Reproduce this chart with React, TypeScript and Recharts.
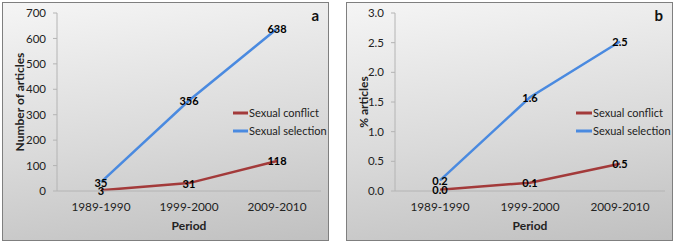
import React from 'react';
import { LineChart, Line, XAxis, YAxis, Legend, LabelList } from 'recharts';

const periods = ['1989-1990', '1999-2000', '2009-2010'];
const conflictCount = [3, 31, 118];
const selectionCount = [35, 356, 638];
const conflictPct = [0.02, 0.14, 0.46];
const selectionPct = [0.18, 1.58, 2.52];
const countTicks = [0, 100, 200, 300, 400, 500, 600, 700];
const pctTicks = [0, 0.5, 1.0, 1.5, 2.0, 2.5, 3.0];

const FONT = 'Lato, "Open Sans", sans-serif';
const RED = '#a33a3a';
const BLUE = '#4a8ae0';
const AXIS = '#b4b4b4';

const countData = periods.map((p, i) => ({ period: p, conflict: conflictCount[i], selection: selectionCount[i] }));
const pctData = periods.map((p, i) => ({ period: p, conflict: conflictPct[i], selection: selectionPct[i] }));

const makeLabel = (fmt: (v: number) => string) => (props: any) => {
  const { x, y, value } = props;
  return (
    <text x={x} y={y} textAnchor="middle" dominantBaseline="central" fontFamily={FONT} fontSize={11} fontWeight="bold" fill="#000">
      {fmt(value)}
    </text>
  );
};

const legendContent = (lineLen: number) => (props: any) => {
  const items = props.payload || [];
  return (
    <div style={{ fontFamily: FONT, fontSize: 11, color: '#222' }}>
      {items.map((it: any) => (
        <div key={it.value} style={{ display: 'flex', alignItems: 'center', height: 17.7 }}>
          <svg width={lineLen} height={4} style={{ display: 'block' }}>
            <line x1={0} y1={2} x2={lineLen} y2={2} stroke={it.color} strokeWidth={3} />
          </svg>
          <span style={{ marginLeft: 1, whiteSpace: 'nowrap' }}>{it.value}</span>
        </div>
      ))}
    </div>
  );
};

type PanelProps = {
  left: number;
  data: any[];
  ticks: number[];
  max: number;
  yWidth: number;
  yLabel: string;
  letter: string;
  tickFmt: (v: number) => string;
  labelFmt: (v: number) => string;
  legendLeft: number;
  lineLen: number;
};

const Panel = (p: PanelProps) => (
  <div
    style={{
      position: 'absolute',
      left: p.left,
      top: 2,
      width: 327,
      height: 239,
      boxSizing: 'border-box',
      border: '1px solid #7f7f7f',
      background: 'linear-gradient(172deg, #f5f5f5 0%, #dadada 55%, #c0c0c0 100%)',
    }}
  >
    <LineChart width={325} height={237} data={p.data} margin={{ top: 10, right: 7, bottom: 0, left: 0 }}>
      <XAxis
        dataKey="period"
        scale="band"
        height={49}
        tickLine={false}
        tickSize={6}
        tickMargin={6}
        axisLine={{ stroke: AXIS }}
        tick={{ fontFamily: FONT, fontSize: 11.8, fill: '#222' }}
        label={{ value: 'Period', position: 'insideBottom', offset: 10, style: { fontFamily: FONT, fontSize: 12, fontWeight: 'bold', fill: '#222' } }}
      />
      <YAxis
        width={p.yWidth}
        domain={[0, p.max]}
        ticks={p.ticks}
        interval={0}
        tickFormatter={p.tickFmt}
        tickSize={4}
        tickMargin={7}
        tickLine={{ stroke: AXIS }}
        axisLine={{ stroke: AXIS }}
        tick={{ fontFamily: FONT, fontSize: 11.5, fill: '#222' }}
        label={{ value: p.yLabel, angle: -90, position: 'insideLeft', offset: 17, style: { textAnchor: 'middle', fontFamily: FONT, fontSize: 12, fontWeight: 'bold', fill: '#222' } }}
      />
      <Legend
        layout="horizontal"
        verticalAlign="middle"
        align="center"
        content={legendContent(p.lineLen)}
        wrapperStyle={{ position: 'absolute', left: p.legendLeft, top: 101, width: 'auto', height: 'auto' }}
      />
      <Line dataKey="conflict" name="Sexual conflict" stroke={RED} strokeWidth={2.5} dot={false} isAnimationActive={false}>
        <LabelList dataKey="conflict" content={makeLabel(p.labelFmt)} />
      </Line>
      <Line dataKey="selection" name="Sexual selection" stroke={BLUE} strokeWidth={2.5} dot={false} isAnimationActive={false}>
        <LabelList dataKey="selection" content={makeLabel(p.labelFmt)} />
      </Line>
    </LineChart>
    <span
      style={{ position: 'absolute', right: 9, top: 3, fontFamily: FONT, fontSize: 15, fontWeight: 'bold', color: '#111' }}
    >
      {p.letter}
    </span>
  </div>
);

export default function App() {
  return (
    <div style={{ position: 'absolute', left: 0, top: 0, width: 675, height: 245, background: '#fff' }}>
      <Panel
        left={2}
        data={countData}
        ticks={countTicks}
        max={700}
        yWidth={54}
        yLabel="Number of articles"
        letter="a"
        tickFmt={(v) => String(v)}
        labelFmt={(v) => String(v)}
        legendLeft={230}
        lineLen={15}
      />
      <Panel
        left={346}
        data={pctData}
        ticks={pctTicks}
        max={3}
        yWidth={48}
        yLabel="% articles"
        letter="b"
        tickFmt={(v) => v.toFixed(1)}
        labelFmt={(v) => v.toFixed(1)}
        legendLeft={229}
        lineLen={16}
      />
    </div>
  );
}
